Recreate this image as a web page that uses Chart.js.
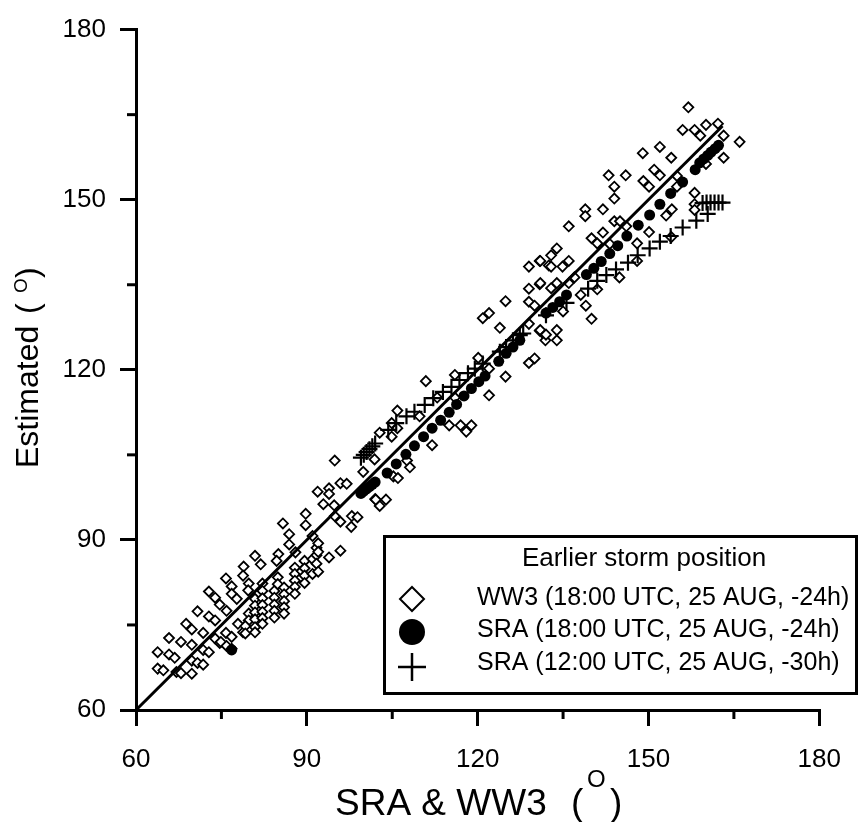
<!DOCTYPE html>
<html>
<head>
<meta charset="utf-8">
<script src="https://cdn.jsdelivr.net/npm/chart.js@4.4.0/dist/chart.umd.min.js"></script>
<style>
  body { margin: 0; background: #fff; }
  canvas { display: block; }
</style>
</head>
<body>
<canvas id="grafico" width="859" height="822"></canvas>
<script>
// WW3 (18:00 UTC, 25 AUG, -24h)  [SRA & WW3, Estimated]
const ww3Points = [
  [63.8,70.2],[63.8,67.3],[64.8,67.0],[65.8,72.7],[65.8,69.8],[66.8,69.2],[67.1,66.7],[67.9,66.5],
  [67.9,72.0],[68.8,75.2],[69.8,74.2],[69.8,71.5],[69.8,68.7],[69.8,66.4],[70.8,77.4],[70.8,68.3],
  [71.8,73.6],[71.8,70.6],[71.8,68.0],[72.8,80.9],[72.8,76.5],[72.8,70.2],[73.9,79.8],[73.9,75.8],
  [73.9,72.6],[74.7,78.6],[74.7,71.8],[74.9,72.0],[75.8,83.2],[75.8,73.6],[75.9,77.5],[75.9,71.3],
  [76.8,81.8],[76.8,80.5],[76.8,72.9],[76.8,70.8],[77.7,79.6],[77.9,75.2],[78.8,73.7],[78.9,85.3],
  [78.8,83.7],[79.8,82.3],[79.7,81.1],[79.8,77.0],[79.8,75.8],[79.2,74.8],[79.2,73.5],[80.9,87.2],
  [80.9,79.6],[80.9,78.4],[80.9,77.2],[80.9,76.0],[80.9,74.6],[80.9,73.7],[81.9,85.7],[82.2,82.3],
  [82.2,81.0],[82.2,79.7],[82.2,78.5],[82.2,77.3],[82.2,76.2],[82.2,75.2],[84.3,81.0],[84.3,79.8],
  [84.3,78.6],[84.3,77.5],[84.3,76.3],[84.9,83.4],[84.9,82.2],[85.0,87.5],[84.7,86.3],[85.8,92.9],
  [86.0,81.6],[86.0,80.4],[86.0,79.2],[86.0,78.1],[86.0,77.0],[86.9,91.0],[86.9,89.2],[87.9,85.1],
  [87.9,84.0],[87.9,82.8],[87.9,81.7],[87.9,80.5],[88.0,87.8],[89.1,84.5],[89.6,86.3],[89.6,85.0],
  [89.6,83.7],[89.6,82.4],[89.8,94.6],[89.8,92.6],[91.0,90.7],[91.0,86.6],[91.0,84.0],[91.7,88.6],
  [91.7,87.3],[91.7,85.8],[92.0,89.4],[92.0,87.9],[92.0,84.4],[91.9,98.5],[92.9,96.3],[93.9,99.1],
  [93.9,98.1],[93.9,86.9],[94.8,96.1],[94.9,94.2],[94.9,104.0],[95.9,100.0],[95.9,93.2],[95.9,88.1],
  [97.0,99.9],[97.9,94.2],[97.8,92.3],[98.9,94.0],[99.9,102.0],[101.9,104.2],[102.0,97.2],[102.8,96.0],
  [102.1,97.1],[103.9,97.1],[102.8,108.9],[104.9,110.6],[104.9,108.2],[105.9,112.8],[105.9,109.7],
  [105.2,101.2],[106.0,100.9],[107.6,104.0],[108.1,102.8],[109.8,111.8],[110.9,118.0],[112.0,106.7],
  [112.9,115.1],[115.0,110.2],[116.0,119.1],[116.0,115.1],[117.0,110.2],[118.0,109.1],[118.9,110.2],
  [120.1,122.1],[120.9,129.1],[122.0,130.0],[122.0,120.2],[122.0,115.5],[123.9,127.4],[124.9,132.1],
  [124.9,118.8],[129.0,138.2],[129.0,134.3],[129.0,132.0],[129.0,128.1],[129.0,121.2],[130.0,131.3],
  [130.0,122.0],[130.9,139.2],[130.9,135.1],[130.9,126.9],[131.0,139.2],[131.0,135.3],[131.0,127.0],
  [131.8,126.1],[131.9,125.2],[132.0,126.2],[132.5,138.4],[132.9,140.2],[132.9,138.2],[132.9,134.4],
  [133.9,141.4],[133.9,135.3],[133.9,127.0],[133.9,125.2],[134.9,138.2],[135.0,130.3],[136.0,145.3],
  [136.0,139.2],[136.0,135.3],[137.0,136.3],[138.1,133.2],[138.9,148.3],[138.9,147.1],[139.0,131.3],
  [140.0,143.2],[140.0,129.0],[141.0,142.3],[141.0,134.2],[142.0,148.3],[142.0,144.2],[143.0,154.3],
  [143.2,142.2],[144.0,152.3],[144.0,150.2],[144.0,146.2],[144.9,136.3],[145.0,146.2],[146.0,154.3],
  [146.1,145.3],[148.0,142.3],[148.0,139.2],[149.0,158.2],[149.1,153.3],[150.1,152.3],[150.1,144.3],
  [151.0,155.3],[152.0,159.3],[152.0,154.3],[153.1,147.2],[154.0,157.4],[154.0,143.4],[154.1,148.3],
  [155.0,154.2],[155.0,152.3],[156.0,162.3],[157.0,166.3],[158.1,162.3],[158.1,151.2],[158.1,149.2],
  [158.1,148.2],[159.1,161.3],[160.1,163.2],[160.1,156.3],[162.2,163.4],[163.2,161.3],[163.2,157.4],
  [166.0,160.2]
];
// SRA (18:00 UTC, 25 AUG, -24h)
const sra18Points = [
  [76.8,70.6],[99.5,98.2],[100.0,98.6],[100.5,99.0],[101.0,99.4],[101.5,99.8],[102.0,100.2],
  [104.1,101.8],[105.7,103.4],[107.4,105.1],[108.9,106.6],[110.5,108.2],[112.0,109.7],[113.5,111.1],
  [115.0,112.5],[116.3,113.9],[117.6,115.4],[118.9,116.7],[120.2,117.9],[121.3,118.9],[123.7,121.5],
  [125.0,122.9],[126.2,124.0],[127.4,125.2],[132.0,130.0],[133.2,131.0],[134.4,132.0],[135.6,133.2],
  [139.1,136.8],[140.4,137.9],[141.7,139.1],[143.2,140.5],[144.6,141.9],[146.2,143.6],[148.2,145.5],
  [150.2,147.3],[152.0,149.2],[153.9,151.1],[156.0,153.1],[158.2,155.3],[159.0,156.5],[159.7,157.2],
  [160.4,157.8],[161.0,158.4],[161.7,159.0],[162.3,159.6]
];
// SRA (12:00 UTC, 25 AUG, -30h)
const sra12Points = [
  [99.5,104.5],[100.0,105.0],[100.5,105.5],[101.0,106.0],[101.5,106.5],[102.0,107.0],[104.3,109.4],
  [105.7,110.6],[107.5,111.8],[108.9,112.6],[110.7,113.8],[112.2,115.0],[113.9,116.1],[115.4,117.0],
  [116.8,118.2],[118.3,119.4],[119.5,120.2],[120.9,121.1],[123.9,123.2],[125.0,124.0],[126.2,125.2],
  [127.4,126.1],[128.0,126.4],[132.0,129.6],[135.6,131.8],[139.4,134.3],[141.0,135.7],[142.6,136.7],
  [144.3,137.7],[146.4,138.9],[148.1,140.2],[150.2,141.4],[152.0,142.6],[153.9,143.6],[156.0,145.1],
  [158.4,146.3],[160.4,147.5],[159.5,149.4],[160.2,149.5],[160.9,149.5],[161.6,149.5],[162.3,149.5],
  [163.0,149.5]
];
const oneToOne = [60, 163];
const tickValues = [60, 90, 120, 150, 180];
const minorTicks = [75, 105, 135, 165];
const legendTitle = 'Earlier storm position';
const legendLabels = ['WW3 (18:00 UTC, 25 AUG, -24h)', 'SRA (18:00 UTC, 25 AUG, -24h)', 'SRA (12:00 UTC, 25 AUG, -30h)'];

const FONT = '"Liberation Sans", Arial, sans-serif';
Chart.defaults.font.family = FONT;
Chart.defaults.color = '#000';

function toXY(list) {
  return list.map(p => ({ x: p[0], y: p[1] }));
}

// ticks menores, titulos de ejes y leyenda
const extras = {
  id: 'extras',
  afterDraw(chart) {
    const ctx = chart.ctx;
    const sx = chart.scales.x, sy = chart.scales.y;
    const area = chart.chartArea;
    ctx.save();
    ctx.strokeStyle = '#000';
    ctx.lineWidth = 3;
    minorTicks.forEach(v => {
      const px = sx.getPixelForValue(v);
      ctx.beginPath(); ctx.moveTo(px, area.bottom); ctx.lineTo(px, area.bottom + 9); ctx.stroke();
      const py = sy.getPixelForValue(v);
      ctx.beginPath(); ctx.moveTo(area.left, py); ctx.lineTo(area.left - 9, py); ctx.stroke();
    });

    // titulo eje x
    ctx.fillStyle = '#000';
    ctx.textBaseline = 'alphabetic';
    ctx.textAlign = 'left';
    ctx.font = '37px ' + FONT;
    ctx.fillText('SRA & WW3', 335, 815);
    ctx.fillText('(', 571, 815);
    ctx.fillText(')', 610, 815);
    ctx.font = '24px ' + FONT;
    ctx.fillText('O', 587, 787);

    // titulo eje y
    ctx.save();
    ctx.translate(38, 468);
    ctx.rotate(-Math.PI / 2);
    ctx.font = '32px ' + FONT;
    ctx.fillText('Estimated', 0, 0);
    ctx.fillText('(', 154, 0);
    ctx.fillText(')', 190, 0);
    ctx.font = '19px ' + FONT;
    ctx.fillText('O', 175, -11);
    ctx.restore();

    // leyenda
    ctx.fillStyle = '#fff';
    ctx.fillRect(384.5, 536.5, 472, 157);
    ctx.lineWidth = 3;
    ctx.strokeRect(384.5, 536.5, 472, 157);
    ctx.fillStyle = '#000';
    ctx.textBaseline = 'middle';
    ctx.textAlign = 'center';
    ctx.font = '26px ' + FONT;
    ctx.fillText(legendTitle, 644, 559);
    ctx.textAlign = 'left';
    ctx.font = '25px ' + FONT;
    const rows = [598, 630, 663];
    legendLabels.forEach((lab, i) => ctx.fillText(lab, 477, rows[i]));
    const cx = 412;
    const sym = [599, 632, 667];
    // diamante
    ctx.lineWidth = 2;
    ctx.beginPath();
    ctx.moveTo(cx, sym[0] - 12); ctx.lineTo(cx + 12, sym[0]);
    ctx.lineTo(cx, sym[0] + 12); ctx.lineTo(cx - 12, sym[0]); ctx.closePath();
    ctx.fillStyle = '#fff'; ctx.fill(); ctx.stroke();
    // circulo
    ctx.fillStyle = '#000';
    ctx.beginPath(); ctx.arc(cx, sym[1], 13, 0, Math.PI * 2); ctx.fill();
    // cruz
    ctx.lineWidth = 2.5;
    ctx.beginPath();
    ctx.moveTo(cx - 14, sym[2]); ctx.lineTo(cx + 14, sym[2]);
    ctx.moveTo(cx, sym[2] - 14); ctx.lineTo(cx, sym[2] + 14);
    ctx.stroke();
    ctx.restore();
  }
};

function axisOpts(pad, fit) {
  return {
    type: 'linear',
    min: 60,
    max: 180,
    afterBuildTicks: s => { s.ticks = tickValues.map(v => ({ value: v })); },
    afterFit: fit,
    grid: { drawOnChartArea: false, drawTicks: true, tickLength: 16, color: '#000', lineWidth: 3 },
    border: { display: true, color: '#000', width: 3 },
    ticks: { color: '#000', font: { size: 26 }, padding: pad },
    title: { display: false }
  };
}

new Chart(document.getElementById('grafico'), {
  type: 'scatter',
  data: {
    datasets: [
      {
        label: legendLabels[2],
        data: toXY(sra12Points),
        pointStyle: 'cross',
        pointRadius: 8,
        borderColor: '#000',
        borderWidth: 2.2
      },
      {
        label: legendLabels[1],
        data: toXY(sra18Points),
        pointStyle: 'circle',
        pointRadius: 5.5,
        backgroundColor: '#000',
        borderColor: '#000',
        borderWidth: 0
      },
      {
        label: '1:1',
        data: oneToOne.map(v => ({ x: v, y: v })),
        showLine: true,
        pointRadius: 0,
        borderColor: '#000',
        borderWidth: 3
      },
      {
        label: legendLabels[0],
        data: toXY(ww3Points),
        pointStyle: 'rectRot',
        pointRadius: 5,
        backgroundColor: '#fff',
        borderColor: '#000',
        borderWidth: 1.8
      }
    ]
  },
  options: {
    responsive: false,
    animation: false,
    events: [],
    layout: { padding: { top: 26, right: 39, left: 0, bottom: 0 } },
    plugins: { legend: { display: false }, tooltip: { enabled: false } },
    scales: {
      x: axisOpts(18, s => { s.height = 112; }),
      y: axisOpts(14, s => { s.width = 136; })
    }
  },
  plugins: [extras]
});
</script>
</body>
</html>
